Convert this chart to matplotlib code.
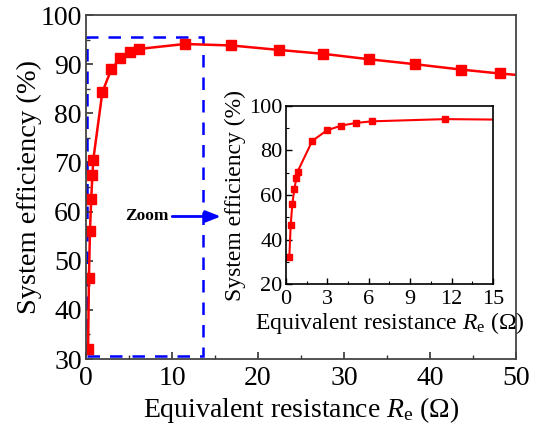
import matplotlib
matplotlib.use("Agg")
import matplotlib.pyplot as plt
from matplotlib.ticker import MultipleLocator
from matplotlib.patches import Rectangle

plt.rcParams['font.family'] = ['Liberation Serif', 'DejaVu Serif']
plt.rcParams['mathtext.fontset'] = 'custom'
plt.rcParams['mathtext.rm'] = 'Liberation Serif'
plt.rcParams['mathtext.it'] = 'Liberation Serif:italic'

# Data
resistance = [0.24, 0.34, 0.46, 0.60, 0.75, 0.84, 1.9, 2.95, 4.0, 5.1, 6.2, 11.5,
              16.9, 22.4, 27.6, 32.9, 38.2, 43.6, 48.1, 53.5]
efficiency = [32.0, 46.5, 56.0, 62.5, 67.5, 70.5, 84.3, 89.0, 91.2, 92.4, 93.1, 94.1,
              93.8, 92.9, 92.1, 91.0, 90.0, 88.9, 88.1, 87.3]

main_xticks = [0, 10, 20, 30, 40, 50]
main_yticks = [30, 40, 50, 60, 70, 80, 90, 100]
inset_xticks = [0, 3, 6, 9, 12, 15]
inset_yticks = [20, 40, 60, 80, 100]

fig = plt.figure(figsize=(5.43, 4.30), dpi=100)
ax = fig.add_axes([0.1584, 0.1651, 0.7919, 0.800])

ax.plot(resistance, efficiency, color='#ff0000', lw=1.8, marker='s', ms=6.5,
        clip_on=True)
ax.set_xlim(0, 50)
ax.set_ylim(30, 100)
ax.set_xticks(main_xticks)
ax.set_yticks(main_yticks)
ax.xaxis.set_minor_locator(MultipleLocator(5))
ax.yaxis.set_minor_locator(MultipleLocator(5))
ax.tick_params(which='both', direction='in', top=False, right=False, labelsize=20,
               color='#333333')
ax.tick_params(axis='x', which='both', pad=5)
ax.tick_params(axis='y', which='both', pad=3)
ax.tick_params(which='major', length=5, width=1.2)
ax.tick_params(which='minor', length=3, width=1.0)
for s in ax.spines.values():
    s.set_linewidth(1.3)
    s.set_color('#444444')
ax.set_xlabel('Equivalent resistance $R_{\\rm e}$ ($\\Omega$)', fontsize=20, labelpad=3)
ax.set_ylabel('System efficiency (%)', fontsize=20.5, labelpad=-1)

# Zoom rectangle
rect = Rectangle((0.12, 30.6), 13.5, 64.9, fill=False, edgecolor='#0000ff',
                 lw=1.8, ls=(0, (5, 4)), zorder=1)
ax.add_patch(rect)
ax.annotate('', xy=(16.0, 59.0), xytext=(9.7, 59.0),
            arrowprops=dict(arrowstyle='-|>,head_length=0.9,head_width=0.35',
                            color='#0000ff', lw=2.0))
ax.text(9.6, 59.0, 'Zoom', fontsize=12.5, fontweight='bold', ha='right', va='center')

# Inset
axi = fig.add_axes([0.5267, 0.3395, 0.3812, 0.414])
axi.plot(resistance, efficiency, color='#ff0000', lw=1.5, marker='s', ms=4.8)
axi.set_xlim(0, 15)
axi.set_ylim(20, 100)
axi.set_xticks(inset_xticks)
axi.set_yticks(inset_yticks)
axi.xaxis.set_minor_locator(MultipleLocator(1.5))
axi.yaxis.set_minor_locator(MultipleLocator(10))
axi.tick_params(which='both', direction='in', top=False, right=False, labelsize=16)
axi.tick_params(axis='x', which='both', pad=4)
axi.tick_params(axis='y', which='both', pad=2.5)
axi.tick_params(which='major', length=4, width=1.0)
axi.tick_params(which='minor', length=2.5, width=0.8)
for s in axi.spines.values():
    s.set_linewidth(1.2)
    s.set_color('black')
axi.set_xlabel('Equivalent resistance $R_{\\rm e}$ ($\\Omega$)', fontsize=17, labelpad=1)
axi.set_ylabel('System efficiency (%)', fontsize=17, labelpad=2)

fig.savefig('out.png', dpi=100)
